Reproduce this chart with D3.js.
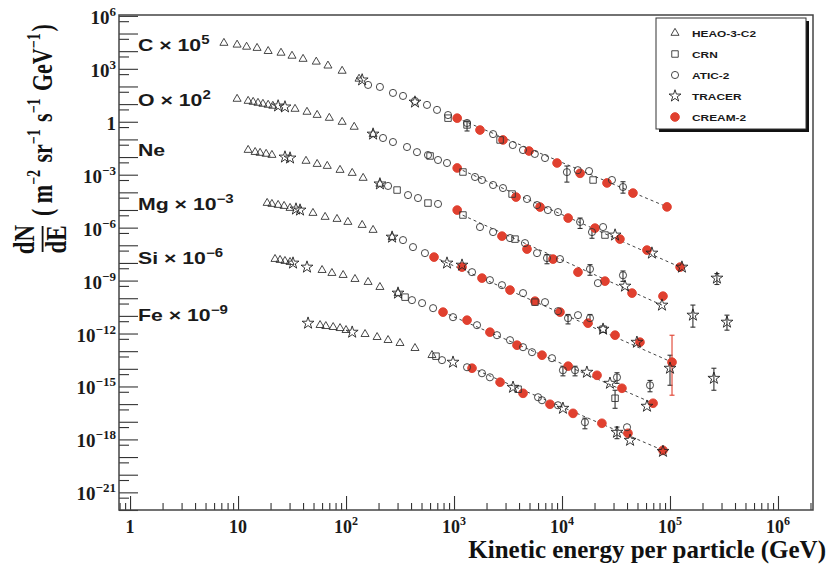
<!DOCTYPE html>
<html>
<head>
<meta charset="utf-8">
<script src="https://cdn.jsdelivr.net/npm/d3@7"></script>
<style>
  body { margin: 0; background: #fff; }
  svg { display: block; }
</style>
</head>
<body>
<script>
// flux values as plotted (already scaled by the factor in the label)
// points are [E (GeV), flux] or [E, flux, low, high] when an error bar shows

// C x 10^5
let cHEAO = [[7.4,2.9e4],[9.8,2.3e4],[12,1.75e4],[15,1.5e4],[19,1.0e4],[25,8.0e3],[31.6,5.4e3],[40,3.6e3],[53,2.5e3],[68,1.5e3],[92,760],[132,270]];
let cCRN = [[880,1.6],[1320,0.66,0.3,1.1],[2670,0.093],[19400,5.0e-4]];
let cATIC = [[160,122],[206,94],[272,43],[337,29],[435,15],[562,9.0],[696,4.7],[880,2.4],[1320,0.85],[2300,0.2],[3500,0.048],[4350,0.025],[5600,0.015],[6960,0.0088],[11100,1.4e-3,3.8e-4,3.1e-3],[14000,1.8e-3],[17800,1.6e-3],[29000,5.0e-4],[36700,2.0e-4,9e-5,4e-4]];
let cTRACER = [[141,234],[435,13]];
let cCREAM = [[1070,1.6],[1740,0.34],[2840,0.093],[4950,0.022],[9000,0.0046],[14700,0.0012],[26100,3.4e-4],[45400,9.1e-5],[93800,1.5e-5]];
let cFit = [[1070,1.6],[93800,1.5e-5]];

// O x 10^2
let oHEAO = [[9.8,19.6],[12.4,15],[13.8,13.2],[15.3,11.6],[17,10.2],[19,9.0],[21,7.9],[33.7,5.3],[43.5,3.6],[54,2.4],[70,1.64],[92,0.97],[119,0.51],[178,0.2]];
let oCRN = [[600,0.0115],[1210,0.00142],[3450,8.0e-5],[25000,3.8e-7]];
let oATIC = [[220,0.12],[272,0.071],[367,0.037],[454,0.019],[574,0.013],[711,0.0068],[861,0.0046],[1565,7.4e-4],[1815,5.0e-4],[2300,2.6e-4],[2840,1.75e-4],[4740,4.2e-5],[5870,1.9e-5],[7400,9.9e-6],[9180,7.6e-6],[14700,2.1e-6,9e-7,3.5e-6],[18950,5.6e-7,2.5e-7,9e-7],[24000,1.08e-6]];
let oTRACER = [[23.5,7.85],[27.2,6.9],[178,0.2],[31000,3.8e-7],[68000,3.6e-8],[129000,5.8e-9],[272000,1.38e-9,6e-10,2.5e-9]];
let oCREAM = [[1070,0.0024],[3750,5.4e-5],[6260,1.47e-5],[11400,3.5e-6],[20200,9.4e-7],[34400,2.24e-7],[61200,5.35e-8],[124000,5.8e-9]];
let oFit = [[1070,0.0024],[124000,5.8e-9]];

// Ne
let neHEAO = [[12.4,0.025],[14.4,0.019],[16,0.017],[18.2,0.015],[20.6,0.013],[42.6,0.006],[54,0.004],[67,0.0031],[88,0.00184],[114,0.00124],[144,6.5e-4],[206,3.0e-4]];
let neCRN = [[297,1.35e-4],[574,2.47e-5],[1210,5.2e-6],[3670,2.24e-7]];
let neATIC = [[245,2.3e-4],[375,7.0e-5],[464,4.75e-5],[711,2.2e-5],[1740,1.08e-6],[2300,5.6e-7],[3300,2.56e-7],[4540,1.33e-7],[5870,3.6e-8],[7260,1.88e-8,9e-9,3e-8],[9575,1.65e-8],[18160,4.5e-9,2e-9,8e-9],[21500,7.2e-10],[36700,2.0e-9,9e-10,3.5e-9]];
let neTRACER = [[27.2,0.01],[30.3,0.0088],[206,3.0e-4],[38300,4.85e-10],[84300,4.06e-11],[163000,1.1e-11,2.3e-12,4.1e-11],[337000,4.4e-12,1.55e-12,1.1e-11]];
let neCREAM = [[1070,9.9e-6],[2780,3.3e-7],[4740,6.1e-8],[8260,1.65e-8],[14060,3.0e-9],[25000,9.3e-10],[44500,1.95e-10],[86100,1.31e-10]];
let neFit = [[1070,7e-6],[84300,4.06e-11]];

// Mg x 10^-3
let mgHEAO = [[18.6,2.47e-5],[20.6,2.17e-5],[23.5,1.91e-5],[26.7,1.67e-5],[30.3,1.29e-5],[49.4,6.7e-6],[64,4.0e-6],[82.5,3.06e-6],[104,2.07e-6],[141,1.4e-6],[178,7.3e-7],[267,2.9e-7]];
let mgCRN = [[5620,6.0e-11],[24000,1.76e-12]];
let mgATIC = [[337,1.97e-7],[417,7.9e-8],[538,3.6e-8],[1468,3.0e-9],[2150,1.06e-9],[2780,5.5e-10],[4355,1.95e-10],[6960,6.0e-11],[9180,1.85e-11],[11370,7.4e-12,3.5e-12,1.2e-11],[14060,1.1e-11],[18160,7.4e-12,3.5e-12,1.2e-11]];
let mgTRACER = [[34.4,1.13e-5],[37.5,9.9e-6],[267,2.9e-7],[861,9.8e-9],[1186,7.5e-9],[24000,1.76e-12],[49400,3.2e-13],[100000,1.08e-14,1.17e-15,5.9e-14],[255000,2.9e-15,6.1e-16,1.08e-14]];
let mgCREAM = [[653,2.14e-8],[1186,5.8e-9],[1815,1.38e-9],[3300,2.9e-10],[5620,6.8e-11],[9575,1.63e-11],[17400,3.86e-12],[31000,8.05e-13],[52700,3.23e-13],[104400,2.37e-14,3.2e-16,8e-13]];
let mgFit = [[653,2.14e-8],[104400,2.37e-14]];

// Si x 10^-6
let siHEAO = [[22,1.65e-8],[24.5,1.45e-8],[27.2,1.27e-8],[30.3,1.11e-8],[60,3.9e-9],[74,2.65e-9],[94,2.04e-9],[121,1.21e-9],[160,8.2e-10],[206,4.26e-10],[303,1.95e-10]];
let siCRN = [[352,1.15e-10],[31000,2.15e-16,5.8e-17,6.1e-16]];
let siATIC = [[408,7.8e-11],[506,5.3e-11],[640,2.74e-11],[979,8.45e-12],[1633,2.97e-12],[2500,8.05e-13],[3300,4.2e-13],[4355,1.68e-13],[5275,8.75e-14],[8080,4.0e-14],[10200,8.3e-15,4e-15,1.4e-14],[13200,8.3e-15,4e-15,1.4e-14],[32300,3.3e-15,1.5e-15,6e-15],[65300,1.17e-15,5e-16,2.2e-15]];
let siTRACER = [[32.3,9.8e-9],[43.5,5.8e-9],[303,1.95e-10],[17000,6.4e-15],[27800,1.52e-15],[61200,7.6e-17]];
let siCREAM = [[791,1.63e-11],[1320,5.7e-12],[2150,1.19e-12],[3830,2.18e-13],[6530,5.9e-14],[11400,1.41e-14],[21100,4.3e-15],[35900,7.9e-16],[69700,1.12e-16]];
let siFit = [[791,1.63e-11],[69700,1.12e-16]];

// Fe x 10^-9
let feHEAO = [[57.5,2.97e-12],[65,2.6e-12],[76,2.29e-12],[88,2.0e-12],[100,1.55e-12],[150,9.2e-13],[194,6.2e-13],[245,4.2e-13],[316,2.84e-13],[435,1.48e-13],[625,5.9e-14]];
let feCRN = [[681,5.2e-14],[3920,7.0e-16]];
let feATIC = [[774,3.1e-14],[1320,1.23e-14],[1815,5.6e-15],[2150,3.3e-15],[6000,2.45e-16],[6530,1.66e-16],[9180,8.6e-17],[16300,9.4e-18,4e-18,1.6e-17],[40000,4.9e-18]];
let feTRACER = [[44.5,3.86e-12],[114,1.19e-12],[979,2.37e-14],[3520,9.0e-16],[10200,5.8e-17],[32300,2.54e-18,1.1e-18,5e-18],[42700,8.9e-19],[86100,2.1e-19]];
let feCREAM = [[1468,1.08e-14],[2670,1.74e-15],[4355,4.1e-16],[7740,9.8e-17],[12650,3.0e-17],[23400,8.2e-18],[40800,2.23e-18],[86100,2.4e-19]];
let feFit = [[1468,1.08e-14],[86100,2.4e-19]];

let elements = ["C", "O", "Ne", "Mg", "Si", "Fe"];
let scaleExp = [5, 2, null, -3, -6, -9];
let experiments = ["HEAO-3-C2", "CRN", "ATIC-2", "TRACER", "CREAM-2"];
let xLabelExp = [0, 1, 2, 3, 4, 5, 6];
let yLabelExp = [6, 3, 0, -3, -6, -9, -12, -15, -18, -21];

// set up the canvas
let width = 832;
let height = 568;
let pLeft = 119, pRight = 813, pTop = 15, pBottom = 510;

let x = d3.scaleLog().domain([0.79, 2.11e6]).range([pLeft, pRight]);
let y = d3.scaleLog().domain([1e-22, 1.12e6]).range([pBottom, pTop]);

let svg = d3.select("body").append("svg")
  .attr("width", width)
  .attr("height", height);

svg.append("rect").attr("width", width).attr("height", height).attr("fill", "#fff");

let serif = "'Liberation Serif', 'Times New Roman', serif";
let sans = "'Liberation Sans', Arial, sans-serif";
let ink = "#1a1a1a";

// ticks
let xMajor = xLabelExp.map((e) => Math.pow(10, e));
let xMinor = [];
for (let e = -1; e <= 6; e++) {
  for (let m = 2; m <= 9; m++) {
    let v = m * Math.pow(10, e);
    if (v > 0.79 && v < 2.11e6) xMinor.push(v);
  }
}
let yDecades = d3.range(-22, 7).map((e) => Math.pow(10, e));
let yHalf = d3.range(-22, 6).map((e) => 5 * Math.pow(10, e));

let tickStyle = (g) => {
  g.select(".domain").remove();
  g.selectAll("line").attr("stroke", "#333").attr("stroke-width", 1.1);
};

svg.append("g").attr("transform", `translate(0,${pBottom})`)
  .call(d3.axisBottom(x).tickValues(xMajor).tickSize(-14).tickFormat(""))
  .call(tickStyle);
svg.append("g").attr("transform", `translate(0,${pBottom})`)
  .call(d3.axisBottom(x).tickValues(xMinor).tickSize(-7).tickFormat(""))
  .call(tickStyle);
svg.append("g").attr("transform", `translate(${pLeft},0)`)
  .call(d3.axisLeft(y).tickValues(yDecades).tickSize(-19).tickFormat(""))
  .call(tickStyle);
svg.append("g").attr("transform", `translate(${pLeft},0)`)
  .call(d3.axisLeft(y).tickValues(yHalf).tickSize(-10).tickFormat(""))
  .call(tickStyle);

// frame
svg.append("rect")
  .attr("x", pLeft).attr("y", pTop)
  .attr("width", pRight - pLeft).attr("height", pBottom - pTop)
  .attr("fill", "none").attr("stroke", "#444").attr("stroke-width", 1.5);

// power of ten labels
let powerLabel = (sel, e, supSize, supDy) => {
  if (e === 0) { sel.text("1"); return; }
  if (e === 1) { sel.text("10"); return; }
  sel.append("tspan").text("10");
  sel.append("tspan").attr("font-size", supSize).attr("dy", supDy)
    .text(String(e).replace("-", "\u2212"));
};

xLabelExp.forEach((e) => {
  svg.append("text")
    .attr("x", x(Math.pow(10, e)))
    .attr("y", 533)
    .attr("text-anchor", "middle")
    .attr("font-family", serif).attr("font-weight", "bold")
    .attr("font-size", 18).attr("fill", ink)
    .call(powerLabel, e, 12, -8);
});

yLabelExp.forEach((e) => {
  svg.append("text")
    .attr("x", 116)
    .attr("y", y(Math.pow(10, e)) + 8)
    .attr("text-anchor", "end")
    .attr("font-family", serif).attr("font-weight", "bold")
    .attr("font-size", 19).attr("fill", ink)
    .call(powerLabel, e, 13, -8);
});

// axis titles
svg.append("text")
  .attr("x", 826).attr("y", 558)
  .attr("text-anchor", "end")
  .attr("font-family", serif).attr("font-weight", "bold")
  .attr("font-size", 25).attr("fill", "#111")
  .text("Kinetic energy per particle (GeV)");

let yt = svg.append("g").attr("transform", "translate(40,252) rotate(-90) scale(1,1.3)");
yt.append("text").attr("x", 12.5).attr("y", -5).attr("text-anchor", "middle")
  .attr("font-family", serif).attr("font-weight", "bold").attr("font-size", 23).attr("fill", "#111")
  .text("dN");
yt.append("line").attr("x1", 0).attr("x2", 26).attr("y1", 2).attr("y2", 2)
  .attr("stroke", "#111").attr("stroke-width", 1.4);
yt.append("text").attr("x", 12.5).attr("y", 20).attr("text-anchor", "middle")
  .attr("font-family", serif).attr("font-weight", "bold").attr("font-size", 23).attr("fill", "#111")
  .text("dE");
let unit = yt.append("text").attr("x", 36).attr("y", 9)
  .attr("font-family", serif).attr("font-weight", "bold").attr("font-size", 22).attr("fill", "#111");
[["( m", "\u22122"], [" sr", "\u22121"], [" s", "\u22121"], [" GeV", "\u22121"]].forEach((p) => {
  unit.append("tspan").text(p[0]);
  unit.append("tspan").attr("font-size", 14).attr("dy", -9).text(p[1]);
  unit.append("tspan").attr("dy", 9).text("\u200a");
});
unit.append("tspan").text(")");

// marker styles per experiment
let red = "#e0402f";
let styles = {
  "HEAO-3-C2": { type: d3.symbolTriangle, size: 28, fill: "none", stroke: "#333" },
  "CRN": { type: d3.symbolSquare, size: 42, fill: "none", stroke: "#333" },
  "ATIC-2": { type: d3.symbolCircle, size: 40, fill: "none", stroke: "#333" },
  "TRACER": { type: d3.symbolStar, size: 44, fill: "none", stroke: "#222" },
  "CREAM-2": { type: d3.symbolCircle, size: 60, fill: red, stroke: red },
};

let sets = [
  [cHEAO, cCRN, cATIC, cTRACER, cCREAM, cFit],
  [oHEAO, oCRN, oATIC, oTRACER, oCREAM, oFit],
  [neHEAO, neCRN, neATIC, neTRACER, neCREAM, neFit],
  [mgHEAO, mgCRN, mgATIC, mgTRACER, mgCREAM, mgFit],
  [siHEAO, siCRN, siATIC, siTRACER, siCREAM, siFit],
  [feHEAO, feCRN, feATIC, feTRACER, feCREAM, feFit],
];

let line = d3.line().x((d) => x(d[0])).y((d) => y(d[1]));

let plot = svg.append("g");

// dashed fits
sets.forEach((s) => {
  plot.append("path")
    .attr("d", line(s[5]))
    .attr("fill", "none")
    .attr("stroke", "#444")
    .attr("stroke-width", 1)
    .attr("stroke-dasharray", "3,3");
});

// error bars
sets.forEach((s) => {
  s.slice(0, 5).forEach((data, k) => {
    let col = k === 4 ? red : "#333";
    let eb = plot.append("g").attr("stroke", col).attr("stroke-width", 1.1);
    data.filter((d) => d.length > 2).forEach((d) => {
      let cx = x(d[0]);
      eb.append("line").attr("x1", cx).attr("x2", cx).attr("y1", y(d[2])).attr("y2", y(d[3]));
      eb.append("line").attr("x1", cx - 2.5).attr("x2", cx + 2.5).attr("y1", y(d[2])).attr("y2", y(d[2]));
      eb.append("line").attr("x1", cx - 2.5).attr("x2", cx + 2.5).attr("y1", y(d[3])).attr("y2", y(d[3]));
    });
  });
});

// markers: CREAM underneath, then the open symbols
let order = [4, 2, 1, 3, 0];
order.forEach((k) => {
  let st = styles[experiments[k]];
  sets.forEach((s) => {
    plot.append("g").selectAll("path")
      .data(s[k])
      .join("path")
      .attr("transform", (d) => `translate(${x(d[0])},${y(d[1])})`)
      .attr("d", d3.symbol(st.type, st.size))
      .attr("fill", st.fill)
      .attr("stroke", st.stroke)
      .attr("stroke-width", 0.9);
  });
});

// element labels
let labelY = [51, 106, 156, 210, 264, 321];
elements.forEach((el, i) => {
  let t = svg.append("text")
    .attr("transform", `translate(138,${labelY[i]}) scale(1.25,1)`)
    .attr("font-family", sans).attr("font-weight", "bold")
    .attr("font-size", 17).attr("fill", ink);
  t.append("tspan").text(el);
  if (scaleExp[i] !== null) {
    t.append("tspan").text(" \u00d7 10");
    t.append("tspan").attr("font-size", 12).attr("dy", -7)
      .text(String(scaleExp[i]).replace("-", "\u2212"));
  }
});

// legend
let lg = svg.append("g");
lg.append("rect").attr("x", 659).attr("y", 21).attr("width", 150).attr("height", 111).attr("fill", "#111");
lg.append("rect").attr("x", 656).attr("y", 18).attr("width", 150).attr("height", 111)
  .attr("fill", "#fff").attr("stroke", "#333").attr("stroke-width", 1);
experiments.forEach((name, i) => {
  let st = styles[name];
  let ly = 33 + i * 21;
  lg.append("path")
    .attr("transform", `translate(675,${ly})`)
    .attr("d", d3.symbol(st.type, st.size))
    .attr("fill", st.fill).attr("stroke", st.stroke).attr("stroke-width", 0.9);
  lg.append("text")
    .attr("transform", `translate(692,${ly + 3.5}) scale(1.25,1)`)
    .attr("font-family", sans).attr("font-weight", "bold")
    .attr("font-size", 9.5).attr("fill", ink)
    .text(name);
});
</script>
</body>
</html>
